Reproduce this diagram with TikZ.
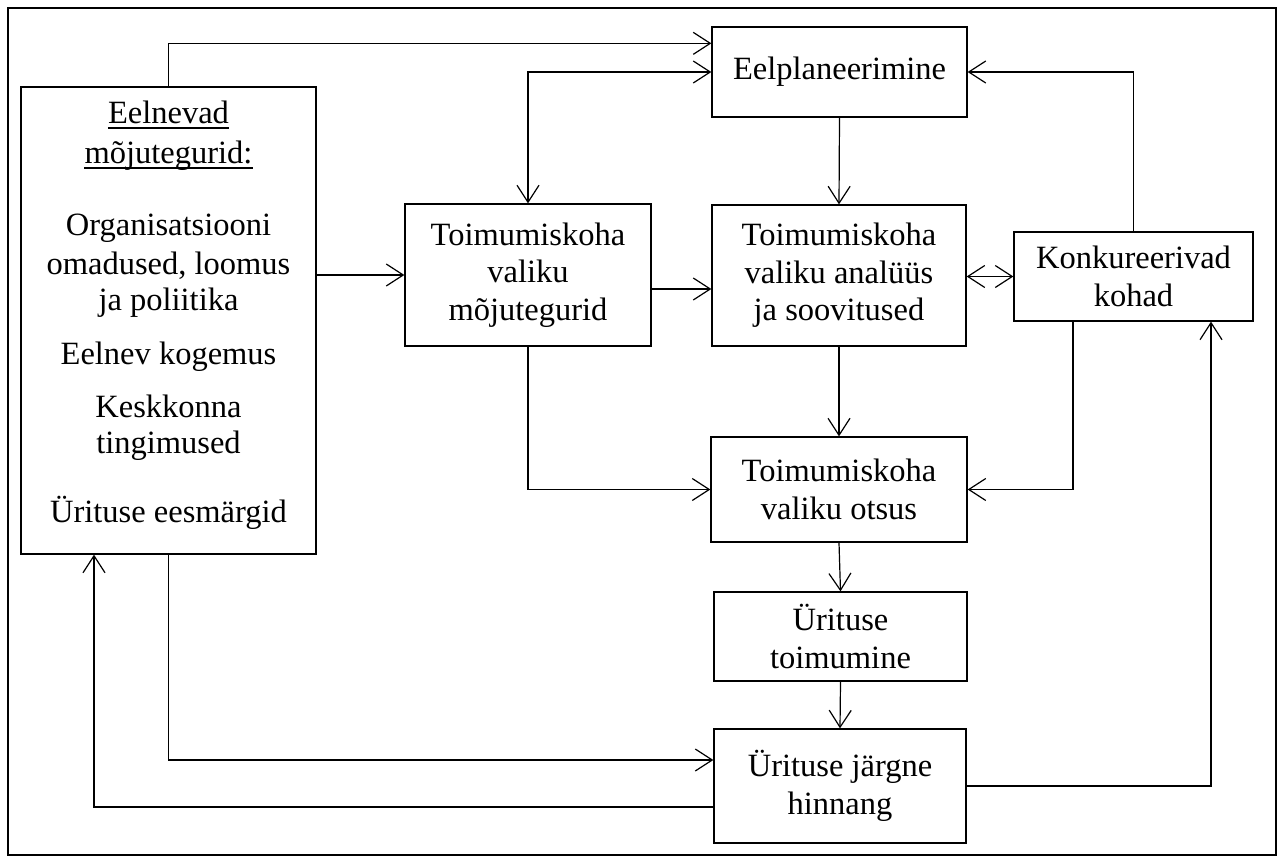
\documentclass[tikz,border=0pt]{standalone}
\usepackage{fontspec}
\setmainfont{Liberation Serif}
\usetikzlibrary{arrows.meta}
\tikzset{
  box/.style={draw, line width=1.3pt, inner sep=0pt, align=center},
  txt/.style={inner sep=0pt, anchor=base},
  tip/.tip={Straight Barb[length=17pt,width=22pt,line width=1.2pt]},
  conn/.style={line width=1.2pt, -tip},
  bconn/.style={line width=1.2pt, tip-tip},
  uline/.style={line width=1.3pt},
}
\begin{document}
\begin{tikzpicture}[x=1pt,y=-1pt, font=\fontsize{32.5}{37.5}\selectfont]
\useasboundingbox (0,0) rectangle (1282,861);
\draw[line width=2pt] (8,8) rectangle (1276,855);

% boxes
\node[box, minimum width=295pt, minimum height=467pt] (L) at (168.5,320.5) {};
\node[box, minimum width=255pt, minimum height=90pt] (E) at (839.5,72) {Eelplaneerimine};
\node[box, minimum width=246pt, minimum height=142pt] (M) at (528,275) {Toimumiskoha\\valiku\\mõjutegurid};
\node[box, minimum width=254pt, minimum height=141pt] (A) at (839,275.5) {Toimumiskoha\\valiku analüüs\\ja soovitused};
\node[box, minimum width=239pt, minimum height=89pt] (K) at (1133.5,276.5) {Konkureerivad\\kohad};
\node[box, minimum width=256pt, minimum height=105pt] (O) at (839,489.5) {Toimumiskoha\\valiku otsus};
\node[box, minimum width=253pt, minimum height=89pt] (T) at (840.5,636.5) {Ürituse\\toimumine};
\node[box, minimum width=252pt, minimum height=114pt] (H) at (840,786) {Ürituse järgne\\hinnang};

% left box text
\node[txt] (l1) at (168.5,124) {Eelnevad};
\node[txt] (l2) at (168.5,164) {mõjutegurid:};
\draw[uline] ([yshift=-4pt]l1.base west) -- ([yshift=-4pt]l1.base east);
\draw[uline] ([yshift=-4pt]l2.base west) -- ([yshift=-4pt]l2.base east);
\node[txt] (l3) at (168.5,236) {Organisatsiooni};
\node[txt] (l4) at (168.5,274) {omadused, loomus};
\node[txt] (l5) at (168.5,310) {ja poliitika};
\node[txt] (l6) at (168.5,364) {Eelnev kogemus};
\node[txt] (l7) at (168.5,417) {Keskkonna};
\node[txt] (l8) at (168.5,453) {tingimused};
\node[txt] (l9) at (168.5,522) {Ürituse eesmärgid};

% connectors
\draw[conn] (L.north) |- ([yshift=-17pt]E.north west);
\draw[bconn] (M.north) |- (E.west);
\draw[conn] (K.north) |- (E.east);
\draw[conn] (E.south) -- (A.north);
\draw[conn] (L.east |- M.west) -- (M.west);
\draw[conn] ([yshift=-14pt]M.east) -- ([yshift=-14pt]M.east -| A.west);
\draw[bconn] (A.east |- K.west) -- (K.west);
\draw[conn] (A.south) -- (O.north);
\draw[conn] (M.south) |- (O.west);
\draw[conn] ([xshift=-60.5pt]K.south) |- (O.east);
\draw[conn] (O.south) -- (T.north);
\draw[conn] (T.south) -- (H.north);
\draw[conn] (L.south) |- ([yshift=26pt]H.west);
\draw[conn] ([yshift=-21pt]H.west) -| ([xshift=-74.5pt]L.south);
\draw[conn] (H.east) -| ([xshift=77.5pt]K.south);
\end{tikzpicture}
\end{document}
